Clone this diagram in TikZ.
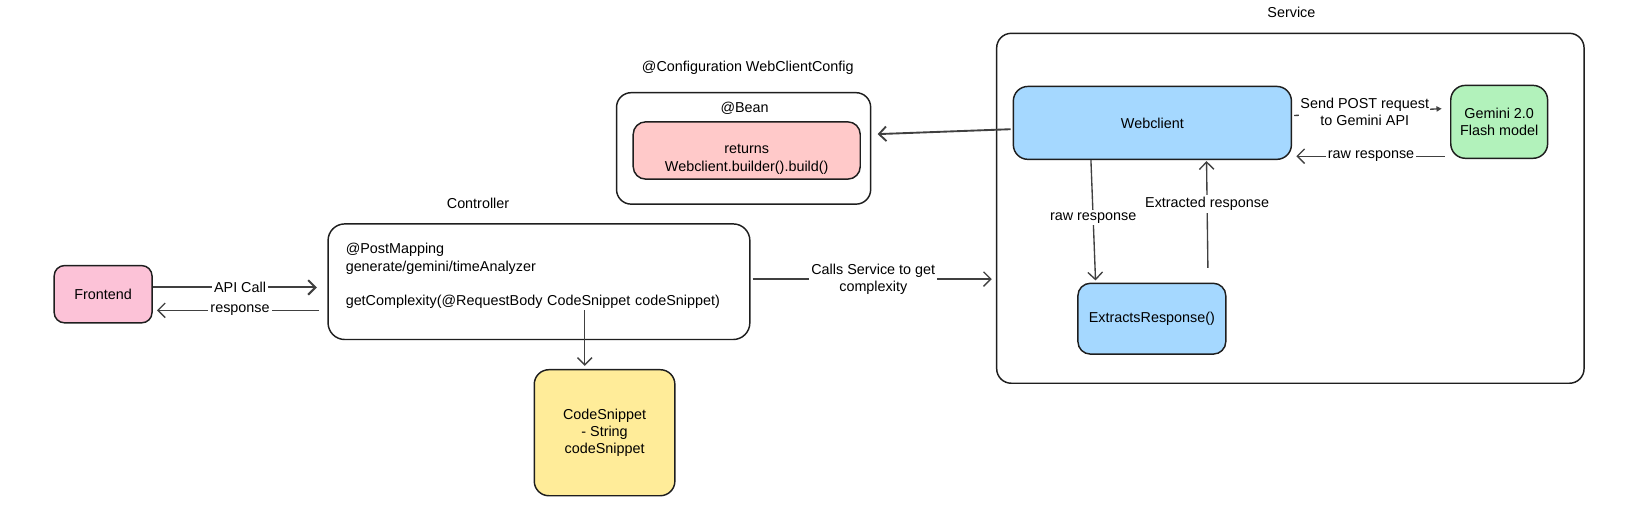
\documentclass[tikz,border=0pt]{standalone}
\usepackage{fontspec}
\setmainfont{Liberation Sans}
\usetikzlibrary{arrows.meta}

\definecolor{ink}{HTML}{1E1E1E}
\definecolor{pinkfill}{HTML}{FCC2D7}
\definecolor{redfill}{HTML}{FFC9C9}
\definecolor{yellowfill}{HTML}{FFEC99}
\definecolor{bluefill}{HTML}{A5D8FF}
\definecolor{greenfill}{HTML}{B2F2BB}

\begin{document}
\begin{tikzpicture}[x=1pt, y=-1pt,
	font=\fontsize{13.8}{16.5}\selectfont,
	box/.style={draw=ink, line width=1.4pt, rounded corners=14pt, align=center, inner sep=0pt},
	arr/.style={draw=ink!85, line width=1.3pt, -{Straight Barb[length=7pt,width=14pt]}},
	lbl/.style={fill=white, inner sep=2pt, align=center},
	title/.style={inner sep=0pt}]
			\useasboundingbox (0,0) rectangle (1568,500);
			% titles
			\node[title](ctrltitle) at (459,195){Controller};
			\node[title](cfgtitle) at (718,65){@Configuration WebClientConfig};
			\node[title](servicetitle) at (1240,12){Service};
			% containers
			\node[box, fill=white, minimum width=244pt, minimum height=107pt](cfg) at (714,142.5){};
			\node[title](beantitle) at (715,104){@Bean};
			\node[box, fill=white, minimum width=564pt, minimum height=336pt](service) at (1239,200){};
			% boxes
			\node[box, fill=pinkfill, minimum width=94pt, minimum height=55pt, rounded corners=10pt](frontend) at (99,282.5){Frontend};
			\node[box, fill=white, minimum width=405pt, minimum height=111pt, text width=371pt, align=left, rounded corners=16pt](ctrl) at (517.5,270.5){@PostMapping\\generate/gemini/timeAnalyzer\\[16.5pt]getComplexity(@RequestBody CodeSnippet codeSnippet)\rule[-14pt]{0pt}{0pt}};
			\node[box, fill=yellowfill, minimum width=135pt, minimum height=121pt](codesnip) at (580.5,415.5){CodeSnippet\\- String\\codeSnippet};
			\node[box, fill=redfill, minimum width=218pt, minimum height=55pt, rounded corners=12pt](bean) at (717,144.5){\rule{0pt}{26pt}returns\\Webclient.builder().build()};
			\node[box, fill=bluefill, minimum width=267pt, minimum height=70pt](webclient) at (1106.5,118){Webclient};
			\node[box, fill=greenfill, minimum width=93pt, minimum height=70pt](gemini) at (1439.5,117){Gemini 2.0\\Flash model};
			\node[box, fill=bluefill, minimum width=142pt, minimum height=68pt, rounded corners=12pt](extract) at (1106,306){ExtractsResponse()};
			% connectors
			\draw[arr, line width=2pt, shorten >=10pt] (frontend.east |- 0,276) -- node[lbl]{API Call} (ctrl.west |- 0,276);
			\draw[arr, shorten <=8pt, shorten >=4pt] (ctrl.west |- 0,298) -- node[lbl]{response} (frontend.east |- 0,298);
			\draw[arr, shorten <=-29pt, shorten >=3pt] ([xshift=-19pt]codesnip.north |- ctrl.south) -- ([xshift=-19pt]codesnip.north);
			\draw[arr, shorten <=2pt, shorten >=4pt] (ctrl.east |- 0,268) -- node[lbl]{Calls Service to get\\complexity} (service.west |- 0,268);
			\draw[arr, line width=1.8pt, shorten <=2pt, shorten >=6pt] (webclient.west |- 0,124) -- (cfg.east |- 0,129);
			\draw[draw=ink!85, line width=1.3pt, -{Triangle[length=5pt,width=5pt]}, shorten <=2pt, shorten >=8pt] (webclient.east |- 0,111) -- node[lbl, pos=0.46, inner xsep=1pt]{Send POST request\\to Gemini API} (gemini.west |- 0,104);
			\draw[arr, shorten <=5pt, shorten >=4pt] (gemini.west |- 0,150) -- node[lbl]{raw response} (webclient.east |- 0,150);
			\draw[arr, shorten >=2pt] ([xshift=-59pt]webclient.south) -- node[lbl, pos=0.47]{raw response} ([xshift=-54pt]extract.north);
			\draw[arr, shorten <=14pt, shorten >=1pt] ([xshift=54pt]extract.north) -- node[lbl, pos=0.64]{Extracted response} ([xshift=52pt]webclient.south);
			\end{tikzpicture}
\end{document}
